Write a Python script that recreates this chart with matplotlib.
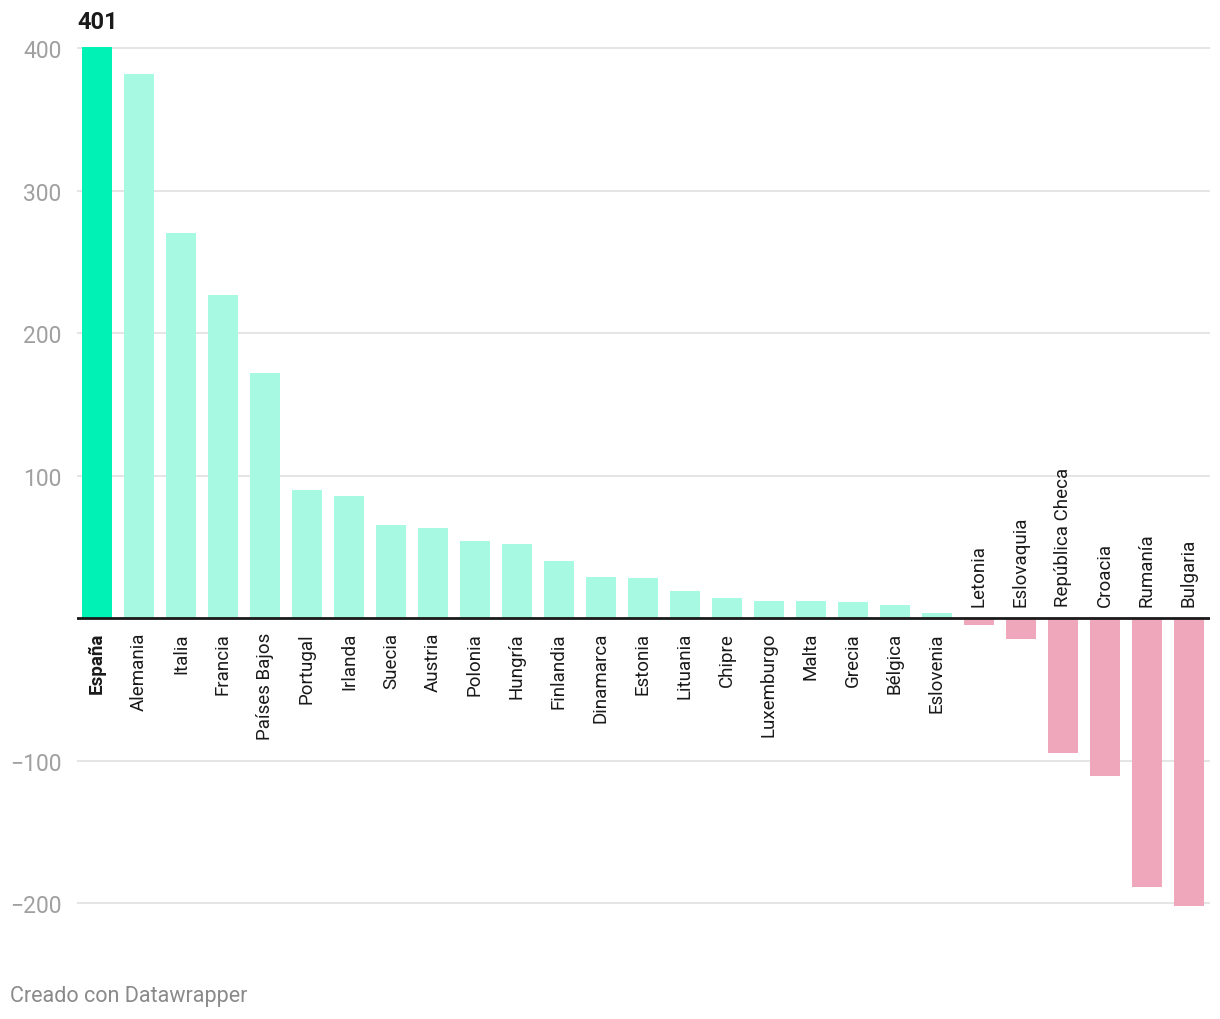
import matplotlib.pyplot as plt

paises = ["España", "Alemania", "Italia", "Francia", "Países Bajos", "Portugal",
          "Irlanda", "Suecia", "Austria", "Polonia", "Hungría", "Finlandia",
          "Dinamarca", "Estonia", "Lituania", "Chipre", "Luxemburgo", "Malta",
          "Grecia", "Bélgica", "Eslovenia", "Letonia", "Eslovaquia",
          "República Checa", "Croacia", "Rumanía", "Bulgaria"]
valores = [401, 382, 270, 227, 172, 90, 86, 65, 63, 54, 52, 40, 29, 28, 19,
           14, 12, 12, 11, 9, 3.5, -5, -15, -95, -111, -189, -202]
destacado = "España"
yticks = [-200, -100, 100, 200, 300, 400]

plt.rcParams['font.family'] = ['Roboto', 'DejaVu Sans']

fig = plt.figure(figsize=(12.2, 10.2), dpi=100)
ax = fig.add_axes([77/1220, 0.0997, (1210-77)/1220, 0.8592])

colores = []
for p, v in zip(paises, valores):
    if p == destacado:
        colores.append("#00f2b4")
    elif v >= 0:
        colores.append("#a8f9e1")
    else:
        colores.append("#efa8bb")

x = list(range(len(paises)))
ax.bar(x, valores, width=0.714, color=colores, zorder=2)

ax.set_xlim(-0.476, 26.5)
ax.set_ylim(-210, 405)

for t in yticks:
    ax.axhline(t, color="#e3e3e3", lw=1.3, zorder=1)
ax.axhline(0, color="#1a1a1a", lw=2, zorder=3)

ax.set_yticks(yticks)
ax.set_yticklabels(["−200", "−100", "100", "200", "300", "400"])
ax.tick_params(axis='y', length=0, pad=11, labelsize=16.5, labelcolor="#a0a0a0")
ax.set_xticks([])
for s in ax.spines.values():
    s.set_visible(False)

for i, (p, v) in enumerate(zip(paises, valores)):
    peso = "bold" if p == destacado else "normal"
    if v >= 0:
        ax.annotate(p, (i, 0), xytext=(0, -10), textcoords="offset points",
                    rotation=90, ha="center", va="top", fontsize=13.5,
                    color="#1a1a1a", fontweight=peso)
    else:
        ax.annotate(p, (i, 0), xytext=(0, 9), textcoords="offset points",
                    rotation=90, ha="center", va="bottom", fontsize=13.5,
                    color="#1a1a1a", fontweight=peso)

i0 = paises.index(destacado)
ax.annotate(f"{valores[i0]:.0f}", (i0, valores[i0]), xytext=(-14, 10),
            textcoords="offset points", ha="left", va="bottom",
            fontsize=17, fontweight="bold", color="#1a1a1a")

fig.text(10/1220, 1 - 997/1020, "Creado con Datawrapper", fontsize=15.5,
         color="#8a8a8a", ha="left", va="center")

fig.savefig("out.png", dpi=100, facecolor="white")
